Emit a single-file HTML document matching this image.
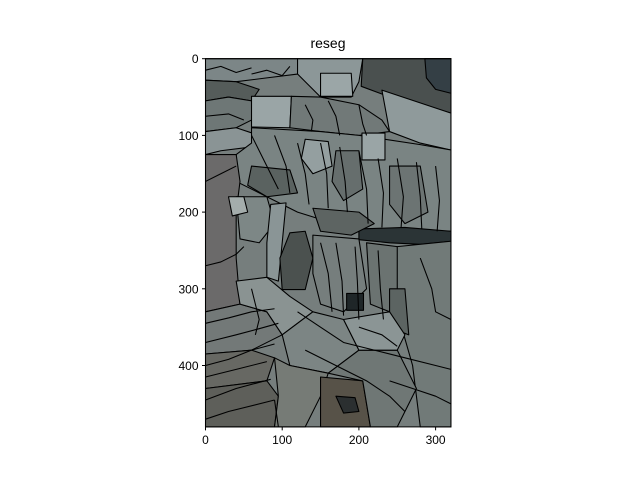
<!DOCTYPE html>
<html><head><meta charset="utf-8"><style>
html,body{margin:0;padding:0;background:#fff;}
svg{display:block;font-family:"Liberation Sans",sans-serif;}
</style></head><body>
<svg width="640" height="480" viewBox="0 0 640 480">
<text x="328" y="48" font-size="14" text-anchor="middle">reseg</text>
<g id="img" transform="translate(205.5,58.7) scale(0.767)" stroke="#000" stroke-width="1.4" stroke-linejoin="round" fill="none">
<rect x="0" y="0" width="320" height="480" fill="#767e7d" stroke="none"/>
<!-- top left mottled -->
<polygon points="0,0 120,0 120,20 80,25 40,30 0,28" fill="#7c8687"/>
<polygon points="0,28 40,30 70,40 60,55 30,50 0,55" fill="#555c5a"/>
<polygon points="0,55 30,50 60,55 70,75 40,90 0,95" fill="#6e7776"/>
<polygon points="0,95 40,90 70,100 60,115 20,120 0,125" fill="#8a9495"/>
<polygon points="120,0 205,0 200,30 190,50 150,50 120,20" fill="#8c9798"/>
<polygon points="150,19 190,19 192,49 150,49" fill="#9ba6a7"/>
<!-- dark band -->
<polygon points="205,0 320,0 320,71 290,62 260,55 230,46 203,36" fill="#4a504f"/>
<polygon points="286,0 320,0 320,45 300,40 288,25" fill="#343f45"/>
<polygon points="60,49 112,49 110,90 60,89" fill="#9aa5a6"/>
<polygon points="230,41 320,71 320,119 280,110 240,95" fill="#8f9a9b"/>
<polygon points="112,49 150,50 200,60 230,80 240,95 200,100 150,95 110,90" fill="#717978"/>
<!-- fern region -->
<polygon points="60,90 150,95 200,100 280,112 320,119 320,225 200,225 120,200 80,180 40,160 40,125 60,110" fill="#7a8483"/>
<polygon points="204,97 234,97 234,132 204,132" fill="#9aa5a6"/>
<polygon points="130,105 160,108 165,140 140,150 125,130" fill="#949fa0"/>
<polygon points="170,120 200,120 205,170 180,185 165,160" fill="#666e6d"/>
<polygon points="240,140 280,140 290,200 260,215 240,190" fill="#6c7473"/>
<polygon points="60,140 110,145 120,175 80,180 55,165" fill="#5a6260"/>
<!-- left bar -->
<polygon points="0,125 40,125 45,160 40,200 40,260 45,320 0,330" fill="#6b6a6a"/>
<polygon points="40,180 80,180 90,215 70,240 45,235" fill="#7d8786"/>
<polygon points="30,180 50,180 55,200 35,205" fill="#a4adac"/>
<!-- dark strip -->
<polygon points="200,222 260,220 320,225 320,238 280,242 240,240 200,236" fill="#2b3436"/>
<polygon points="140,195 200,200 220,215 190,230 150,225" fill="#5d6462"/>
<!-- middle -->
<polygon points="85,190 105,188 100,240 95,290 80,285 80,240" fill="#8a9596"/>
<polygon points="110,227 130,225 140,260 130,301 100,301 97,260" fill="#4b514f"/>
<polygon points="140,230 200,235 210,300 180,330 150,320 140,280" fill="#767e7d"/>
<polygon points="184,306 206,306 206,328 184,328" fill="#1f2628"/>
<polygon points="210,240 250,245 260,300 240,330 215,320" fill="#6b7371"/>
<polygon points="250,245 320,238 320,480 280,480 270,400 250,330" fill="#717a78"/>
<polygon points="240,300 260,300 265,360 240,350" fill="#5c6462"/>
<!-- lower left -->
<polygon points="0,330 45,320 80,330 100,360 60,380 0,385" fill="#737978"/>
<polygon points="0,385 60,380 90,390 80,420 0,430" fill="#676863"/>
<polygon points="0,430 80,420 95,440 90,480 0,480" fill="#5e5f5a"/>
<polygon points="40,290 80,285 110,310 140,330 100,360 80,330 45,320" fill="#8a9392"/>
<polygon points="100,360 140,330 180,340 200,380 160,410 110,400" fill="#7c8584"/>
<polygon points="90,390 110,400 160,410 150,440 130,480 90,480 95,440" fill="#767b76"/>
<polygon points="150,415 205,420 215,480 150,480" fill="#575248"/>
<polygon points="170,440 195,442 200,460 180,462" fill="#2b2f30"/>
<polygon points="200,380 250,380 275,430 250,480 215,480 205,420 160,410" fill="#6f7775"/>
<polygon points="180,340 240,330 260,360 250,380 200,380" fill="#8b9595"/>
<!-- texture lines -->
<g>
<polyline points="0,345 30,338 60,330 90,326"/>
<polyline points="0,370 40,360 70,352 95,345"/>
<polyline points="0,400 30,392 60,380 90,372"/>
<polyline points="0,415 40,405 80,395"/>
<polyline points="0,445 40,430 85,418"/>
<polyline points="0,470 30,460 90,445"/>
<polyline points="90,445 95,480"/>
<polyline points="0,270 20,265 40,255 50,245"/>
<polyline points="60,100 80,140 95,170"/>
<polyline points="90,100 105,140 110,175"/>
<polyline points="120,110 130,150 135,190"/>
<polyline points="150,110 158,150 160,195"/>
<polyline points="175,115 182,160 185,200"/>
<polyline points="200,120 210,170 212,215"/>
<polyline points="225,130 232,175 230,220"/>
<polyline points="250,130 258,180 255,220"/>
<polyline points="275,135 280,180 282,222"/>
<polyline points="300,140 305,185 302,225"/>
<polyline points="130,60 140,80 138,95"/>
<polyline points="160,55 170,75 175,100"/>
<polyline points="200,60 205,85 210,100"/>
<polyline points="150,240 160,280 165,330"/>
<polyline points="170,240 178,290 180,335"/>
<polyline points="195,245 198,290 200,340"/>
<polyline points="225,250 228,300 232,340"/>
<polyline points="280,260 295,300 300,330 320,340"/>
<polyline points="120,330 150,350 180,370 220,380 260,390 300,400 320,405"/>
<polyline points="130,380 170,400 210,420 240,440 260,460"/>
<polyline points="200,350 230,360 250,375"/>
<polyline points="0,160 20,150 40,140"/>
<polyline points="0,75 30,72 50,80"/>
<polyline points="0,15 20,10 40,18 60,12"/>
<polyline points="60,20 80,15 100,22 110,10"/>
<polyline points="240,420 270,430 300,440 320,450"/>
<polyline points="60,300 70,340 65,360"/>
</g>
</g>
<g>
<rect x="205.5" y="58.7" width="245.5" height="368.2" fill="none" stroke="#000" stroke-width="1"/>
<g id="xt"></g>
<g id="yt"></g>
</g>
<script>
const xTicks = [0, 100, 200, 300];
const yTicks = [0, 100, 200, 300, 400];
const imgW = 320, imgH = 480;
const x0 = 205.5, y0 = 58.7, sc = 0.767;
const xs = v => x0 + v * sc, ys = v => y0 + v * sc;
const NS = "http://www.w3.org/2000/svg";
const xt = document.getElementById('xt'), yt = document.getElementById('yt');
xTicks.forEach(v => {
  const l = document.createElementNS(NS, 'line');
  
  
  l.setAttribute('x1', xs(v)); l.setAttribute('x2', xs(v));
  l.setAttribute('y1', ys(imgH)); l.setAttribute('y2', ys(imgH) + 3.5);
  l.setAttribute('stroke', '#000');
  xt.appendChild(l);
  const t = document.createElementNS(NS, 'text');
  
  
  t.setAttribute('x', xs(v)); t.setAttribute('y', ys(imgH) + 17);
  t.setAttribute('font-size', '12'); t.setAttribute('text-anchor', 'middle');
  t.textContent = v;
  xt.appendChild(t);
});
yTicks.forEach(v => {
  const l = document.createElementNS(NS, 'line');
  
  
  l.setAttribute('x1', x0 - 3.5); l.setAttribute('x2', x0);
  l.setAttribute('y1', ys(v)); l.setAttribute('y2', ys(v));
  l.setAttribute('stroke', '#000');
  yt.appendChild(l);
  const t = document.createElementNS(NS, 'text');
  
  
  t.setAttribute('x', x0 - 7); t.setAttribute('y', ys(v) + 4.5);
  t.setAttribute('font-size', '12'); t.setAttribute('text-anchor', 'end');
  t.textContent = v;
  yt.appendChild(t);
});
</script>
</svg>
</body></html>
